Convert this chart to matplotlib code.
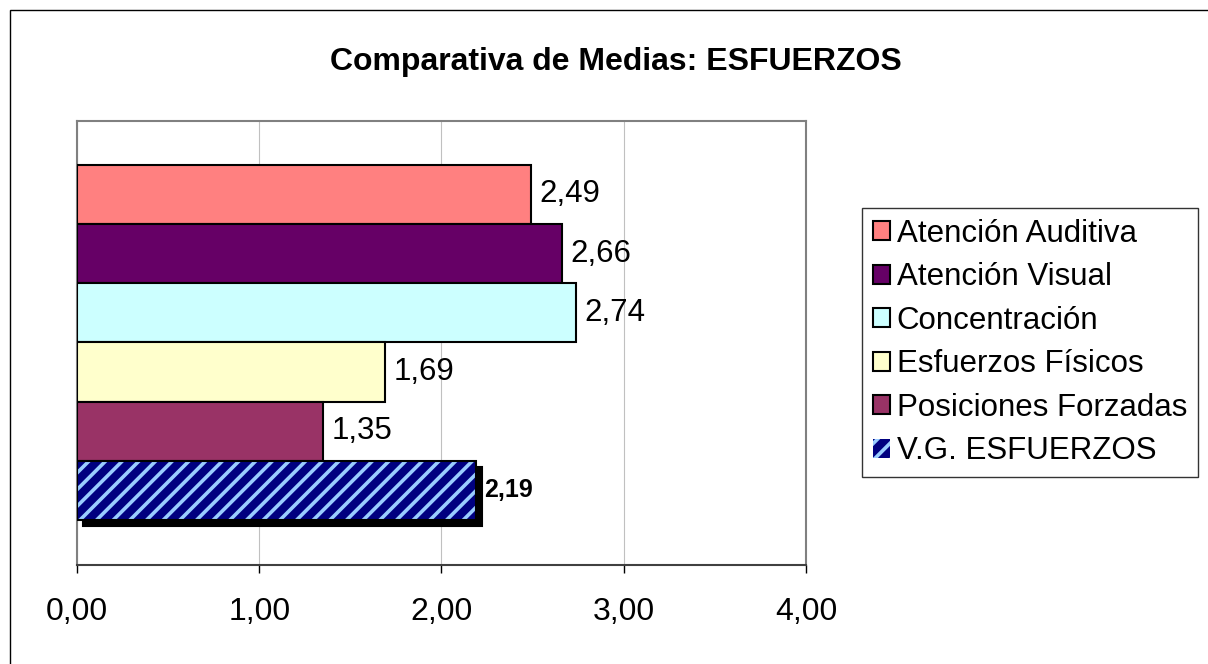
import matplotlib.pyplot as plt
import matplotlib.transforms as mtransforms
from matplotlib.patches import Rectangle, Patch

plt.rcParams['font.family'] = ['Liberation Sans', 'DejaVu Sans']
plt.rcParams['hatch.linewidth'] = 2.6

series = ['Atención Auditiva', 'Atención Visual', 'Concentración',
          'Esfuerzos Físicos', 'Posiciones Forzadas', 'V.G. ESFUERZOS']
values = [2.49, 2.66, 2.74, 1.69, 1.35, 2.19]
colors = ['#FF8080', '#660066', '#CCFFFF', '#FFFFCC', '#993366', '#000080']
xticks = [0, 1, 2, 3, 4]

W, H = 1208, 664
fig = plt.figure(figsize=(W / 100, H / 100), dpi=100, facecolor='white')

# borde del gráfico
fig.patches.append(Rectangle((9.5 / W, -0.1), 1.2, 1 - 9.5 / H + 0.1,
                             transform=fig.transFigure, fill=False,
                             edgecolor='black', linewidth=1.0))

ax = fig.add_axes([77 / W, (H - 565) / H, (806 - 77) / W, (565 - 121) / H])

pos = list(range(len(values)))

# barras normales
for i in pos[:-1]:
    ax.barh(i, values[i], height=1.0, color=colors[i],
            edgecolor='black', linewidth=1.5, zorder=3)
    ax.annotate(f"{values[i]:.2f}".replace('.', ','), (values[i], i),
                xytext=(6, 0), textcoords='offset points',
                va='center', ha='left', fontsize=22.5)

# barra V.G. con sombra y rayado
k = pos[-1]
shadow = mtransforms.offset_copy(ax.transData, fig=fig, x=6, y=-6, units='dots')
ax.barh(k, values[k], height=1.0, color='black', edgecolor='black',
        linewidth=1.5, transform=shadow, zorder=2)
ax.barh(k, values[k], height=1.0, color=colors[k], edgecolor='#99CCFF',
        linewidth=0, hatch='//', zorder=3)
ax.barh(k, values[k], height=1.0, fill=False, edgecolor='black',
        linewidth=1.5, zorder=4)
ax.annotate(f"{values[k]:.2f}".replace('.', ','), (values[k], k),
            xytext=(6, 0), textcoords='offset points',
            va='center', ha='left', fontsize=18, fontweight='bold')

ax.set_xlim(0, 4)
ax.set_ylim(len(values) - 0.5 + 0.76, -0.5 - 0.74)
ax.set_xticks(xticks)
ax.set_xticklabels([f"{t:.2f}".replace('.', ',') for t in xticks], fontsize=23)
ax.set_yticks([])
ax.tick_params(axis='x', direction='out', length=6, width=1, pad=17)
ax.grid(axis='x', color='#C0C0C0', linewidth=0.8, zorder=0)
ax.set_axisbelow(True)

for s in ['top', 'right', 'left']:
    ax.spines[s].set_color('#808080')
    ax.spines[s].set_linewidth(1.5)
ax.spines['bottom'].set_color('#404040')
ax.spines['bottom'].set_linewidth(1.5)

fig.text(616 / W, 1 - 62 / H, 'Comparativa de Medias: ESFUERZOS',
         ha='center', va='center', fontsize=23, fontweight='bold')

handles = [Patch(facecolor=colors[i], edgecolor='black', linewidth=1.5)
           for i in pos[:-1]]
handles.append(Patch(facecolor=colors[-1], edgecolor='#99CCFF', hatch='//',
                     linewidth=0))
leg = fig.legend(handles, series, loc='upper left',
                 bbox_to_anchor=(862 / W, 1 - 208 / H),
                 fontsize=22.5, frameon=True, fancybox=False, shadow=False,
                 handlelength=0.56, handleheight=0.56, handletextpad=0.2,
                 labelspacing=0.43, borderpad=0.35, borderaxespad=0)
leg.get_frame().set_edgecolor('black')
leg.get_frame().set_linewidth(1.0)

fig.savefig('out.png', dpi=100, facecolor='white')
